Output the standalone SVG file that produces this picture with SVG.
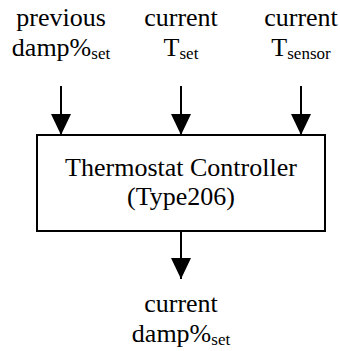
<svg xmlns="http://www.w3.org/2000/svg" width="340" height="351" viewBox="0 0 340 351">
<defs>
<marker id="arrow" markerUnits="userSpaceOnUse" markerWidth="21" markerHeight="20" refX="21" refY="10" orient="auto">
<path d="M0,0 L21,10 L0,20 z" fill="#000"/>
</marker>
<style>
.t{font-family:"Liberation Serif","Times New Roman",serif;font-size:26px;fill:#000;text-anchor:middle}
.s{font-size:17px}
.c{stroke:#000;stroke-width:2;fill:none}
</style>
</defs>
<rect width="340" height="351" fill="#fff"/>
<g id="in1">
<text class="t" x="61" y="26">previous</text>
<text class="t" x="61" y="56">damp%<tspan class="s" dy="3">set</tspan></text>
</g>
<g id="in2">
<text class="t" x="181" y="26">current</text>
<text class="t" x="181" y="56">T<tspan class="s" dy="3">set</tspan></text>
</g>
<g id="in3">
<text class="t" x="301" y="26">current</text>
<text class="t" x="301" y="56">T<tspan class="s" dy="3">sensor</tspan></text>
</g>
<g id="controller">
<rect x="37" y="135" width="288" height="96" fill="#fff" stroke="#000" stroke-width="2"/>
<text class="t" x="181" y="176">Thermostat Controller</text>
<text class="t" x="181" y="205">(Type206)</text>
</g>
<g id="out">
<text class="t" x="181" y="312">current</text>
<text class="t" x="181" y="342">damp%<tspan class="s" dy="3">set</tspan></text>
</g>
<g id="connectors">
<line class="c" x1="61" y1="86" x2="61" y2="135" marker-end="url(#arrow)"/>
<line class="c" x1="181" y1="86" x2="181" y2="135" marker-end="url(#arrow)"/>
<line class="c" x1="301" y1="86" x2="301" y2="135" marker-end="url(#arrow)"/>
<line class="c" x1="181" y1="231" x2="181" y2="279" marker-end="url(#arrow)"/>
</g>
</svg>
